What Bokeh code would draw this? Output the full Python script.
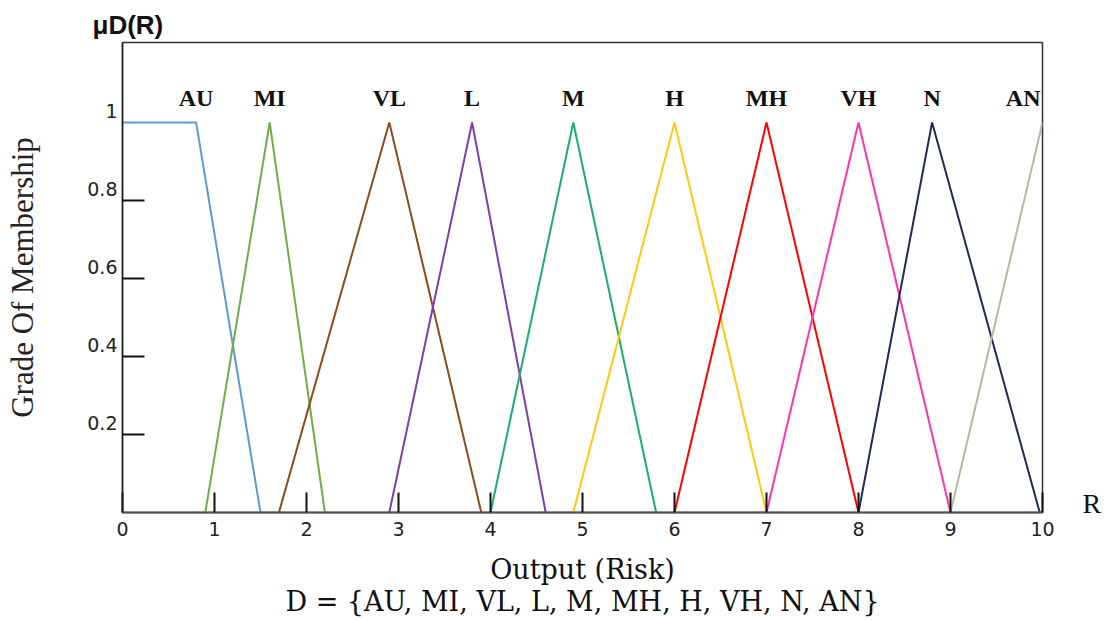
from bokeh.plotting import figure
from bokeh.models import (Range1d, FixedTicker, LabelSet, ColumnDataSource,
                          LinearAxis, Title, NumeralTickFormatter)
from bokeh.embed import file_html
from bokeh.resources import INLINE

# ---- data ----
set_names = ["AU", "MI", "VL", "L", "M", "H", "MH", "VH", "N", "AN"]
au_x = [0.0, 0.8, 1.5]
au_y = [1.0, 1.0, 0.0]
mi_x = [0.9, 1.6, 2.2]
mi_y = [0.0, 1.0, 0.0]
vl_x = [1.7, 2.9, 3.9]
vl_y = [0.0, 1.0, 0.0]
l_x = [2.9, 3.8, 4.6]
l_y = [0.0, 1.0, 0.0]
m_x = [4.0, 4.9, 5.8]
m_y = [0.0, 1.0, 0.0]
h_x = [4.9, 6.0, 7.0]
h_y = [0.0, 1.0, 0.0]
mh_x = [6.0, 7.0, 8.0]
mh_y = [0.0, 1.0, 0.0]
vh_x = [7.0, 8.0, 9.0]
vh_y = [0.0, 1.0, 0.0]
n_x = [8.0, 8.8, 9.97]
n_y = [0.0, 1.0, 0.0]
an_x = [9.0, 10.0]
an_y = [0.0, 1.0]

x_ticks = [0, 1, 2, 3, 4, 5, 6, 7, 8, 9, 10]
y_ticks = [0.2, 0.4, 0.6, 0.8, 1.0]
y_tick_labels = ["0.2", "0.4", "0.6", "0.8", "1"]

title_text = "μD(R)"
y_title = "Grade Of Membership"
x_title = "Output (Risk)"
set_text = "D = {AU, MI, VL, L, M, MH, H, VH, N, AN}"
x_var = "R"

# ---- styles ----
colors = ["#5b9bd5", "#70ad47", "#8c4a1e", "#7d3fb0", "#1aaf6b",
          "#ffc90e", "#ff0000", "#ff33aa", "#1f2a5a", "#b3bc9b"]

W, H = 1108, 620
PXY = 390.0   # px per unit of membership
PXX = 92.0    # px per unit of R

p = figure(width=W, height=H,
           x_range=Range1d(0, 10), y_range=Range1d(0, 1.205),
           output_backend="svg", toolbar_location=None,
           min_border_left=122, min_border_right=W - 1042,
           min_border_top=42, min_border_bottom=H - 512)
p.title.text = ""
p.grid.visible = False
p.outline_line_color = "#333333"
p.outline_line_width = 1.5

# x axis (two-line title: axis name and the term set)
xa = p.xaxis[0]
xa.ticker = FixedTicker(ticks=x_ticks)
xa.major_tick_in = 20
xa.major_tick_out = 0
xa.major_tick_line_color = "#111111"
xa.major_tick_line_width = 2
xa.minor_tick_line_color = None
xa.axis_line_color = "#555555"
xa.axis_line_width = 2
xa.major_label_text_font = "DejaVu Sans"
xa.major_label_text_font_size = "19px"
xa.major_label_text_color = "#222222"
xa.major_label_standoff = 9
xa.axis_label = x_title + "\n" + set_text
xa.axis_label_text_font = "DejaVu Serif"
xa.axis_label_text_font_style = "normal"
xa.axis_label_text_font_size = "27px"
xa.axis_label_text_line_height = 1.04
xa.axis_label_text_color = "#111111"
xa.axis_label_standoff = 15

# y axis: tick marks as minor ticks, labels sit a little above each mark
lift = 11 / PXY
ya = p.yaxis[0]
ya.ticker = FixedTicker(ticks=[t + lift for t in y_ticks],
                        minor_ticks=[t for t in y_ticks if t < 1])
ya.formatter = NumeralTickFormatter(format="0.[0]")
ya.major_label_overrides = {t + lift: s for t, s in zip(y_ticks, y_tick_labels)}
ya.major_tick_line_color = None
ya.major_tick_in = 0
ya.major_tick_out = 0
ya.minor_tick_in = 22
ya.minor_tick_out = 0
ya.minor_tick_line_color = "#111111"
ya.minor_tick_line_width = 2
ya.axis_line_color = "#222222"
ya.axis_line_width = 1.5
ya.major_label_text_font = "DejaVu Sans"
ya.major_label_text_font_size = "19px"
ya.major_label_text_color = "#222222"
ya.major_label_standoff = 5
ya.axis_label = y_title
ya.axis_label_text_font = "Liberation Serif"
ya.axis_label_text_font_style = "normal"
ya.axis_label_text_font_size = "31px"
ya.axis_label_text_color = "#222222"
ya.axis_label_standoff = 44

# "R" at the end of the x axis (right-hand axis with one label)
r_pos = 9 / PXY
ra = LinearAxis(ticker=FixedTicker(ticks=[r_pos], minor_ticks=[]),
                major_label_overrides={r_pos: x_var},
                axis_line_color=None, major_tick_line_color=None,
                minor_tick_line_color=None, major_tick_in=0, major_tick_out=0,
                major_label_standoff=40,
                major_label_text_font="Liberation Serif",
                major_label_text_font_size="28px",
                major_label_text_color="#111111")
p.add_layout(ra, "right")

# header
p.add_layout(Title(text=title_text, align="left", offset=-30, standoff=6,
                   text_font="Liberation Sans", text_font_style="bold",
                   text_font_size="26px", text_color="#111111"), "above")

# membership functions
series = [(au_x, au_y), (mi_x, mi_y), (vl_x, vl_y), (l_x, l_y), (m_x, m_y),
          (h_x, h_y), (mh_x, mh_y), (vh_x, vh_y), (n_x, n_y), (an_x, an_y)]
for (xs, ys), c in zip(series, colors):
    p.line(xs, ys, line_color=c, line_width=2)

# peak labels (at the last x where membership is 1)
peak_x = [max(x for x, y in zip(xs, ys) if y == 1) for xs, ys in series]
aligns = ["right" if x >= 10 else "center" for x in peak_x]
peak_src = ColumnDataSource(dict(
    x=[x - (2 / PXX if a == "right" else 0) for x, a in zip(peak_x, aligns)],
    y=[1.0] * len(peak_x),
    text=set_names, align=aligns))
p.add_layout(LabelSet(x="x", y="y", text="text", source=peak_src,
                      y_offset=16,
                      text_align="align", text_baseline="alphabetic",
                      text_font="Liberation Serif", text_font_style="bold",
                      text_font_size="24px", text_color="#111111"))

open("out.html", "w").write(file_html(p, INLINE))
